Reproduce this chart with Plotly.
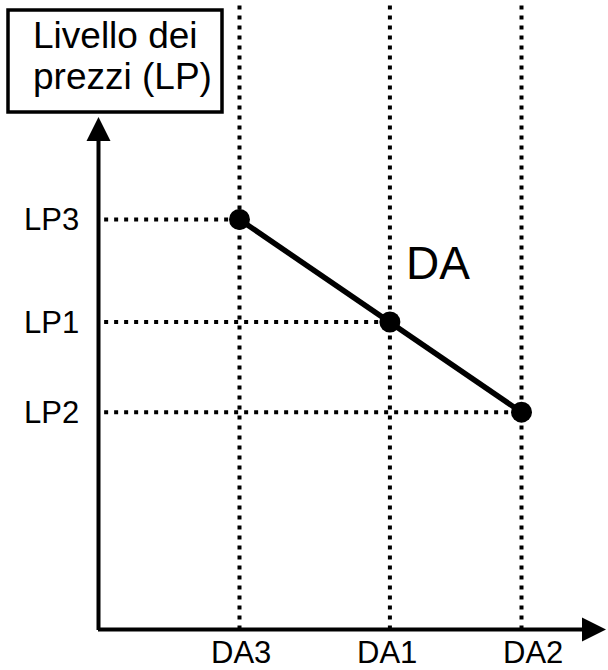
import plotly.graph_objects as go

# ---- data (arbitrary units) ----
da_names = ["DA3", "DA1", "DA2"]
da_values = [3.0, 6.2, 9.0]          # aggregate demand quantities
lp_names = ["LP3", "LP1", "LP2"]
lp_values = [10.0, 7.5, 5.3]         # price levels
curve_label = "DA"
y_axis_title = ["Livello dei", "prezzi (LP)"]

W, H = 608, 670
X0_PX, Y0_PX = 98.5, 629.5           # origin in pixels
SX, SY = 47.0, 41.0                  # pixels per unit

x_range = [-X0_PX / SX, (W - X0_PX) / SX]
y_range = [-(H - Y0_PX) / SY, Y0_PX / SY]

def px_to_x(px):
    return (px - X0_PX) / SX

def py_to_y(py):
    return (Y0_PX - py) / SY

FONT = "Liberation Sans, Arial, sans-serif"
DOT = "4px,6px"

fig = go.Figure()

# vertical dotted guides (from the x axis up to the top edge)
for xv in da_values:
    fig.add_trace(go.Scatter(x=[xv, xv], y=[0, y_range[1]], mode="lines",
                             line=dict(color="black", width=4, dash=DOT),
                             hoverinfo="skip"))
# horizontal dotted guides (from the y axis to the point)
for xv, yv in zip(da_values, lp_values):
    fig.add_trace(go.Scatter(x=[0.12, xv], y=[yv, yv], mode="lines",
                             line=dict(color="black", width=4, dash=DOT),
                             hoverinfo="skip"))

# demand curve
fig.add_trace(go.Scatter(x=da_values, y=lp_values, mode="lines+markers",
                         line=dict(color="black", width=5.5),
                         marker=dict(color="black", size=21),
                         hoverinfo="skip"))

annotations = []
# axes with arrowheads
annotations.append(dict(x=px_to_x(606), y=0, ax=px_to_x(96.5), ay=0,
                        xref="x", yref="y", axref="x", ayref="y", text="",
                        showarrow=True, arrowhead=2, arrowsize=1.2, arrowwidth=4,
                        arrowcolor="black", standoff=0))
annotations.append(dict(x=0, y=py_to_y(117), ax=0, ay=py_to_y(631.5),
                        xref="x", yref="y", axref="x", ayref="y", text="",
                        showarrow=True, arrowhead=2, arrowsize=1.2, arrowwidth=4,
                        arrowcolor="black", standoff=0))

# tick labels
for name, yv in zip(lp_names, lp_values):
    annotations.append(dict(x=px_to_x(81), y=yv, xref="x", yref="y", text=name,
                            showarrow=False, xanchor="right", yanchor="middle",
                            font=dict(family=FONT, size=31, color="black")))
da_shift = [1, -3, 11]
for name, xv, sh in zip(da_names, da_values, da_shift):
    annotations.append(dict(x=xv, y=py_to_y(652), xref="x", yref="y", text=name,
                            showarrow=False, xanchor="center", yanchor="middle",
                            xshift=sh,
                            font=dict(family=FONT, size=31, color="black")))

# curve label
annotations.append(dict(x=px_to_x(438), y=py_to_y(263), xref="x", yref="y",
                        text=curve_label, showarrow=False,
                        xanchor="center", yanchor="middle",
                        font=dict(family=FONT, size=46, color="black")))

# y axis title in a box
for line, cy in zip(y_axis_title, [35, 76.5]):
    annotations.append(dict(x=31 / W, y=1 - cy / H, xref="paper", yref="paper",
                            text=line, showarrow=False, xanchor="left",
                            yanchor="middle",
                            font=dict(family=FONT, size=37, color="black")))

shapes = [dict(type="rect", xref="paper", yref="paper",
               x0=8 / W, x1=222 / W, y0=1 - 112 / H, y1=1 - 10 / H,
               line=dict(color="black", width=3.5), fillcolor="white",
               layer="above")]

fig.update_layout(
    width=W, height=H,
    margin=dict(l=0, r=0, t=0, b=0),
    paper_bgcolor="white", plot_bgcolor="white",
    showlegend=False,
    xaxis=dict(range=x_range, visible=False, fixedrange=True),
    yaxis=dict(range=y_range, visible=False, fixedrange=True),
    annotations=annotations,
    shapes=shapes,
)

fig.write_html("out.html", config={"displayModeBar": False},
               post_script="document.body.style.margin='0';document.body.style.overflow='hidden';")
